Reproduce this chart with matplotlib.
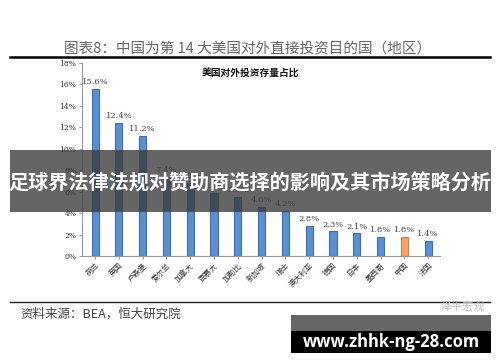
import matplotlib.pyplot as plt
from matplotlib.patches import Rectangle

plt.rcParams['font.family'] = ['Noto Sans CJK SC', 'DejaVu Sans']

countries = ['荷兰', '英国', '卢森堡', '爱尔兰', '加拿大', '百慕大', '加勒比', '新加坡',
             '瑞士', '澳大利亚', '德国', '日本', '墨西哥', '中国', '法国']
shares = [15.6, 12.4, 11.2, 7.4, 6.8, 5.9, 5.5, 4.6, 4.2, 2.8, 2.3, 2.1, 1.8, 1.8, 1.4]
yticks = [0, 2, 4, 6, 8, 10, 12, 14, 16, 18]

W, H = 500, 362
fig = plt.figure(figsize=(W / 100, H / 100), dpi=100)
fig.patch.set_facecolor('white')

# chart area, placed in pixel terms
ax = fig.add_axes([82 / W, 1 - 256 / H, (440 - 82) / W, (256 - 63) / H])
colors = ['#F4A070' if c == '中国' else '#5B8FD0' for c in countries]
edges = ['#E07A40' if c == '中国' else '#3A6FB5' for c in countries]
x = range(len(countries))
bars = ax.bar(x, shares, width=0.3, color=colors, edgecolor=edges, linewidth=0.8)
for xi, v in zip(x, shares):
    ax.text(xi, v + 0.25, f'{v:.1f}%', ha='center', va='bottom', fontsize=6,
            color='#444444', family=['DejaVu Serif'])

ax.set_xlim(-0.55, 14.5)
ax.set_ylim(0, 18)
ax.set_yticks(yticks)
ax.set_yticklabels([f'{t}%' for t in yticks], fontsize=5.5, color='#444444',
                   family=['DejaVu Serif'])
ax.set_xticks(list(x))
ax.set_xticklabels(countries, rotation=45, ha='right', rotation_mode='anchor',
                   fontsize=5.5, color='#333333')
ax.tick_params(axis='both', length=2, width=0.6, colors='#888888', pad=2)
for lab in ax.get_xticklabels() + ax.get_yticklabels():
    lab.set_color('#333333')
for s in ['top', 'right']:
    ax.spines[s].set_visible(False)
for s in ['left', 'bottom']:
    ax.spines[s].set_color('#999999')
    ax.spines[s].set_linewidth(0.8)

# header and footer of the report figure
fig.text(248 / W, 1 - 49 / H, '图表8：中国为第 14 大美国对外直接投资目的国（地区）',
         ha='center', va='center', fontsize=10.5, color='#666666', weight='light')
fig.add_artist(plt.Line2D([10 / W, 490 / W], [1 - 57 / H, 1 - 57 / H], color='black', lw=1.8))
fig.text(250 / W, 1 - 73 / H, '美国对外投资存量占比', ha='center', va='center',
         fontsize=7, weight='bold', color='#111111')
fig.add_artist(plt.Line2D([10 / W, 490 / W], [1 - 302 / H, 1 - 302 / H], color='#222222', lw=1.0))
fig.text(20 / W, 1 - 314 / H, '资料来源：BEA，恒大研究院', ha='left', va='center',
         fontsize=9, style='italic', color='#444444')
fig.text(485 / W, 1 - 306 / H, '泽平宏观', ha='right', va='center', fontsize=8, color='#BBBBBB')

# overlay banner
fig.add_artist(Rectangle((10 / W, 1 - 212 / H), 481 / W, 62 / H, transform=fig.transFigure,
                         facecolor='#3a3a3a', alpha=0.78, edgecolor='none'))
fig.text(250 / W, 1 - 183 / H, '足球界法律法规对赞助商选择的影响及其市场策略分析',
         ha='center', va='center', fontsize=14.5, weight='bold', color='white')

# url box
fig.add_artist(Rectangle((291 / W, 1 - 331 / H), 200 / W, 16 / H, transform=fig.transFigure,
                         facecolor='#666666', edgecolor='none'))
fig.add_artist(Rectangle((291 / W, 1 - 353 / H), 200 / W, 22 / H, transform=fig.transFigure,
                         facecolor='black', edgecolor='none'))
fig.text(391 / W, 1 - 342 / H, 'www.zhhk-ng-28.com', ha='center', va='center',
         fontsize=12, weight='bold', color='white', family=['Open Sans', 'DejaVu Sans'])

fig.savefig('out.png', dpi=100)
